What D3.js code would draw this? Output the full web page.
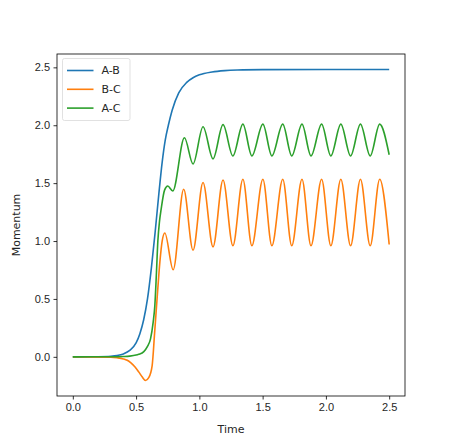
<!DOCTYPE html>
<html>
<head>
<meta charset="utf-8">
<script src="https://cdn.jsdelivr.net/npm/d3@7"></script>
<style>
  body { margin: 0; background: #fff; }
  svg { font-family: "DejaVu Sans", sans-serif; }
</style>
</head>
<body>
<svg id="chart" width="450" height="446"></svg>
<script>
// Series (time, momentum)
const seriesNames = ["A-B", "B-C", "A-C"];
const seriesColors = ["#1f77b4", "#ff7f0e", "#2ca02c"];

const abTime = [0, 0.1, 0.2, 0.3, 0.35, 0.4, 0.45, 0.5, 0.53, 0.56, 0.59, 0.62, 0.65, 0.68, 0.706, 0.73, 0.755, 0.785, 0.837, 0.9, 0.95, 1.0, 1.1, 1.2, 1.3, 1.5, 2.0, 2.5];
const abValues = [0, 0, 0.001, 0.005, 0.011, 0.025, 0.055, 0.12, 0.2, 0.32, 0.5, 0.76, 1.07, 1.41, 1.68, 1.87, 2.0, 2.13, 2.28, 2.37, 2.41, 2.435, 2.46, 2.472, 2.477, 2.48, 2.481, 2.481];

const bcTime = [0, 0.3, 0.35, 0.4, 0.43, 0.457, 0.49, 0.522, 0.549, 0.575, 0.6, 0.627, 0.646, 0.667, 0.688, 0.706, 0.727, 0.793, 0.876, 0.95, 1.029, 1.108, 1.187, 1.265, 1.344, 1.415, 1.502, 1.573, 1.659, 1.73, 1.811, 1.882, 1.966, 2.039, 2.118, 2.195, 2.273, 2.35, 2.425, 2.5];
const bcValues = [0, -0.003, -0.008, -0.018, -0.03, -0.05, -0.085, -0.132, -0.175, -0.204, -0.18, -0.075, 0.2, 0.52, 0.82, 1.0, 1.07, 0.752, 1.447, 0.92, 1.505, 0.95, 1.527, 0.96, 1.533, 0.96, 1.533, 0.96, 1.533, 0.96, 1.533, 0.96, 1.533, 0.96, 1.533, 0.96, 1.533, 0.96, 1.533, 0.97];

const acTime = [0, 0.3, 0.4, 0.45, 0.5, 0.52, 0.561, 0.59, 0.614, 0.635, 0.648, 0.661, 0.672, 0.685, 0.698, 0.725, 0.75, 0.79, 0.882, 0.95, 1.029, 1.108, 1.187, 1.265, 1.344, 1.415, 1.502, 1.573, 1.659, 1.73, 1.811, 1.882, 1.966, 2.039, 2.118, 2.195, 2.273, 2.35, 2.425, 2.5];
const acValues = [0, 0.001, 0.003, 0.006, 0.015, 0.022, 0.045, 0.09, 0.155, 0.3, 0.44, 0.73, 1.0, 1.17, 1.275, 1.44, 1.475, 1.432, 1.892, 1.665, 1.987, 1.71, 2.005, 1.735, 2.01, 1.735, 2.01, 1.735, 2.01, 1.735, 2.01, 1.735, 2.01, 1.735, 2.01, 1.735, 2.01, 1.735, 2.01, 1.745];

const xTicks = [0.0, 0.5, 1.0, 1.5, 2.0, 2.5];
const yTicks = [0.0, 0.5, 1.0, 1.5, 2.0, 2.5];

const series = [
  { name: seriesNames[0], color: seriesColors[0], points: abTime.map((t, i) => [t, abValues[i]]) },
  { name: seriesNames[1], color: seriesColors[1], points: bcTime.map((t, i) => [t, bcValues[i]]) },
  { name: seriesNames[2], color: seriesColors[2], points: acTime.map((t, i) => [t, acValues[i]]) }
];

const svg = d3.select("#chart");
const margin = { left: 57, right: 45, top: 54, bottom: 50 };
const width = +svg.attr("width");
const height = +svg.attr("height");
const fontSize = "11px";

// matplotlib-style 5% margins
const allT = abTime.concat(bcTime, acTime);
const allV = abValues.concat(bcValues, acValues);
const tExt = d3.extent(allT), vExt = d3.extent(allV);
const tPad = (tExt[1] - tExt[0]) * 0.05, vPad = (vExt[1] - vExt[0]) * 0.05;

const x = d3.scaleLinear()
  .domain([tExt[0] - tPad, tExt[1] + tPad])
  .range([margin.left, width - margin.right]);
const y = d3.scaleLinear()
  .domain([vExt[0] - vPad, vExt[1] + vPad])
  .range([height - margin.bottom, margin.top]);

const line = d3.line()
  .x(d => x(d[0]))
  .y(d => y(d[1]))
  .curve(d3.curveMonotoneX);

const plot = svg.append("g");
series.forEach(s => {
  plot.append("path")
    .datum(s.points)
    .attr("fill", "none")
    .attr("stroke", s.color)
    .attr("stroke-width", 1.6)
    .attr("stroke-linejoin", "round")
    .attr("d", line);
});

// axes
const xAxis = d3.axisBottom(x).tickValues(xTicks).tickFormat(d3.format(".1f")).tickSize(3.5).tickPadding(3.5);
const yAxis = d3.axisLeft(y).tickValues(yTicks).tickFormat(d3.format(".1f")).tickSize(3.5).tickPadding(3.5);

const gx = svg.append("g")
  .attr("transform", `translate(0,${height - margin.bottom})`)
  .call(xAxis);
const gy = svg.append("g")
  .attr("transform", `translate(${margin.left},0)`)
  .call(yAxis);

[gx, gy].forEach(g => {
  g.select(".domain").remove();
  g.selectAll(".tick line").attr("stroke", "#000").attr("stroke-width", 0.8);
  g.selectAll(".tick text").attr("fill", "#262626").style("font-size", fontSize);
});

// frame
svg.append("rect")
  .attr("x", margin.left)
  .attr("y", margin.top)
  .attr("width", width - margin.left - margin.right)
  .attr("height", height - margin.top - margin.bottom)
  .attr("fill", "none")
  .attr("stroke", "#000")
  .attr("stroke-width", 0.8);

// labels
svg.append("text")
  .attr("x", (margin.left + width - margin.right) / 2)
  .attr("y", 433)
  .attr("text-anchor", "middle")
  .style("font-size", fontSize)
  .attr("fill", "#262626")
  .text("Time");

svg.append("text")
  .attr("transform", `translate(20,${(margin.top + height - margin.bottom) / 2}) rotate(-90)`)
  .attr("text-anchor", "middle")
  .style("font-size", fontSize)
  .attr("fill", "#262626")
  .text("Momentum");

// legend
const legend = svg.append("g").attr("transform", "translate(62.5,58.5)");
legend.append("rect")
  .attr("width", 67.5)
  .attr("height", 62)
  .attr("rx", 2)
  .attr("fill", "#fff")
  .attr("fill-opacity", 0.8)
  .attr("stroke", "#d9d9d9")
  .attr("stroke-width", 0.8);

series.forEach((s, i) => {
  const ly = 12 + i * 18.8;
  legend.append("line")
    .attr("x1", 4.5).attr("x2", 31)
    .attr("y1", ly).attr("y2", ly)
    .attr("stroke", s.color)
    .attr("stroke-width", 1.6);
  legend.append("text")
    .attr("x", 39)
    .attr("y", ly)
    .attr("dy", "0.36em")
    .style("font-size", fontSize)
    .attr("fill", "#262626")
    .text(s.name);
});
</script>
</body>
</html>
